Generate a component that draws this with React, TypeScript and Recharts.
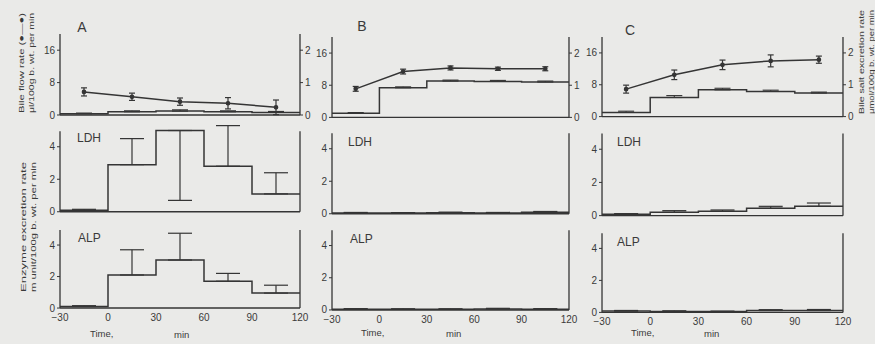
import React from 'react';
import { ComposedChart, Line, XAxis, YAxis, ErrorBar, ReferenceLine } from 'recharts';

// ---- data ----
const stepTimes = [-30, 0, 30, 60, 90, 120];
const midTimes = [-15, 15, 45, 75, 105];
const xTicks = [-30, 0, 30, 60, 90, 120];
const flowTicks = [0, 8, 16];
const saltTicks = [0, 1, 2];
const enzTicks = [0, 2, 4];

// Bile flow rate (ul/100g b.wt. per min), points at period midpoints
const bileFlowA = [5.7, 4.5, 3.3, 2.9, 1.9];
const bileFlowErrA = [1.0, 0.9, 0.9, 1.4, 1.8];
const bileFlowB = [7.1, 11.4, 12.3, 12.1, 12.1];
const bileFlowErrB = [0.6, 0.6, 0.5, 0.4, 0.5];
const bileFlowC = [6.9, 10.5, 13.0, 14.0, 14.3];
const bileFlowErrC = [1.0, 1.2, 1.2, 1.5, 0.9];

// Bile salt excretion rate (umol/100g b.wt. per min), per 30-min period
const bileSaltA = [0.04, 0.1, 0.12, 0.1, 0.08];
const bileSaltErrA = [[0, 0.02], [0, 0.03], [0, 0.04], [0, 0.03], [0, 0.03]];
const bileSaltB = [0.13, 0.92, 1.13, 1.12, 1.1];
const bileSaltErrB = [[0, 0.02], [0, 0.03], [0, 0.03], [0, 0.03], [0, 0.03]];
const bileSaltC = [0.13, 0.6, 0.84, 0.79, 0.74];
const bileSaltErrC = [[0, 0.04], [0, 0.06], [0, 0.05], [0, 0.04], [0, 0.03]];

// LDH excretion rate (m unit/100g b.wt. per min)
const ldhA = [0.1, 2.9, 5.0, 2.8, 1.1];
const ldhErrA = [[0, 0.05], [0, 1.6], [4.3, 0], [0, 2.5], [0, 1.3]];
const ldhB = [0.05, 0.04, 0.06, 0.05, 0.1];
const ldhErrB = [[0, 0.03], [0, 0.03], [0, 0.04], [0, 0.03], [0, 0.04]];
const ldhC = [0.08, 0.2, 0.26, 0.44, 0.56];
const ldhErrC = [[0, 0.04], [0, 0.1], [0, 0.08], [0, 0.12], [0, 0.2]];

// ALP excretion rate (m unit/100g b.wt. per min)
const alpA = [0.1, 2.1, 3.05, 1.7, 0.95];
const alpErrA = [[0, 0.05], [0, 1.6], [0, 1.7], [0, 0.5], [0, 0.5]];
const alpB = [0.05, 0.04, 0.04, 0.06, 0.05];
const alpErrB = [[0, 0.03], [0, 0.03], [0, 0.03], [0, 0.04], [0, 0.03]];
const alpC = [0.08, 0.06, 0.05, 0.12, 0.12];
const alpErrC = [[0, 0.04], [0, 0.04], [0, 0.03], [0, 0.05], [0, 0.06]];

// ---- styling / layout ----
const INK = '#353535';
const TXT = '#3a3a3a';
const BG = '#eaeae8';
const FONT = '"Liberation Sans", Arial, sans-serif';
const PADL = 34;
const PADR = 26;
const PADT = 6;

const fmtX = (v: number) => String(v).replace('-', '\u2212');

function stepPoints(vals: number[]) {
  return stepTimes.map((t, i) => ({ t, v: vals[Math.min(i, vals.length - 1)] }));
}
function midPoints(vals: number[], errs: any[]) {
  return midTimes.map((t, i) => ({ t, v: vals[i], e: errs[i] }));
}

function TopPanel(props: {
  x0: number; x1: number; zero: number; unit: number;
  flow: number[]; flowErr: number[]; salt: number[]; saltErr: any[];
}) {
  const { x0, x1, zero, unit, flow, flowErr, salt, saltErr } = props;
  const plotH = 20 * unit;
  const plotW = x1 - x0;
  const padB = 9;
  const w = plotW + PADL + PADR;
  const h = plotH + PADT + padB;
  return (
    <div style={{ position: 'absolute', left: x0 - PADL, top: zero - plotH - PADT }}>
      <ComposedChart width={w} height={h} margin={{ top: PADT, right: 0, bottom: 0, left: 0 }}>
        <XAxis dataKey="t" type="number" domain={[-30, 120]} ticks={xTicks} tick={false} tickLine={false}
          height={padB} axisLine={{ stroke: INK, strokeWidth: 1.4 }} allowDataOverflow />
        <YAxis yAxisId="l" width={PADL} domain={[0, 20]} ticks={flowTicks} tickSize={3} interval={0}
          tick={{ fontSize: 10, fill: TXT, fontFamily: FONT }} axisLine={{ stroke: INK, strokeWidth: 1.3 }}
          tickLine={{ stroke: INK }} allowDataOverflow />
        <YAxis yAxisId="r" orientation="right" width={PADR} domain={[0, 2.5]} ticks={saltTicks} tickSize={3} interval={0}
          tick={{ fontSize: 10, fill: TXT, fontFamily: FONT }} axisLine={{ stroke: INK, strokeWidth: 1.3 }}
          tickLine={{ stroke: INK }} allowDataOverflow />
        <Line yAxisId="r" data={stepPoints(salt)} dataKey="v" type="stepAfter" stroke={INK} strokeWidth={1.5}
          dot={false} isAnimationActive={false} />
        <Line yAxisId="r" data={midPoints(salt, saltErr)} dataKey="v" type="linear" stroke="none" dot={false}
          isAnimationActive={false}>
          <ErrorBar dataKey="e" width={8} stroke={INK} strokeWidth={1.1} />
        </Line>
        <Line yAxisId="l" data={midPoints(flow, flowErr)} dataKey="v" type="linear" stroke={INK} strokeWidth={1.5}
          dot={{ r: 1.6, fill: INK, stroke: INK }} isAnimationActive={false}>
          <ErrorBar dataKey="e" width={3} stroke={INK} strokeWidth={1.2} />
        </Line>
      </ComposedChart>
    </div>
  );
}

function EnzPanel(props: {
  x0: number; x1: number; zero: number; unit: number;
  vals: number[]; errs: any[]; bottom: boolean;
}) {
  const { x0, x1, zero, unit, vals, errs, bottom } = props;
  const plotH = 5.4 * unit;
  const plotW = x1 - x0;
  const padB = bottom ? 22 : 9;
  const w = plotW + PADL + PADR;
  const h = plotH + PADT + padB;
  return (
    <div style={{ position: 'absolute', left: x0 - PADL, top: zero - plotH - PADT }}>
      <ComposedChart width={w} height={h} margin={{ top: PADT, right: PADR, bottom: 0, left: 0 }}>
        <XAxis dataKey="t" type="number" domain={[-30, 120]} ticks={xTicks} interval={0}
          tick={bottom ? { fontSize: 10, fill: TXT, fontFamily: FONT } : false}
          tickFormatter={fmtX} tickLine={false} tickSize={4}
          height={padB} axisLine={{ stroke: INK, strokeWidth: 1.4 }} allowDataOverflow />
        <YAxis yAxisId="l" width={PADL} domain={[0, 5.4]} ticks={enzTicks} tickSize={3} interval={0}
          tick={{ fontSize: 10, fill: TXT, fontFamily: FONT }} axisLine={false}
          tickLine={{ stroke: INK }} />
        <ReferenceLine yAxisId="l" segment={[{ x: -30, y: 0 }, { x: -30, y: 4.95 }]} stroke={INK} strokeWidth={1.3} />
        <ReferenceLine yAxisId="l" segment={[{ x: 120, y: 0 }, { x: 120, y: 4.95 }]} stroke={INK} strokeWidth={1.3} />
        <Line yAxisId="l" data={stepPoints(vals)} dataKey="v" type="stepAfter" stroke={INK} strokeWidth={1.5}
          dot={false} isAnimationActive={false} />
        <Line yAxisId="l" data={midPoints(vals, errs)} dataKey="v" type="linear" stroke="none" dot={false}
          isAnimationActive={false}>
          <ErrorBar dataKey="e" width={12} stroke={INK} strokeWidth={1.2} />
        </Line>
      </ComposedChart>
    </div>
  );
}

const cols = [
  { x0: 60, x1: 300, zt: 115, zm: 212, zb: 308 },
  { x0: 332, x1: 569, zt: 117, zm: 214, zb: 310 },
  { x0: 602, x1: 843, zt: 117, zm: 216, zb: 312 },
];

export default function App() {
  const txt = { fill: TXT, fontFamily: FONT } as const;
  return (
    <div style={{ position: 'absolute', left: 0, top: 0, width: 875, height: 344, background: BG, overflow: 'hidden' }}>
      <TopPanel x0={cols[0].x0} x1={cols[0].x1} zero={cols[0].zt} unit={4.05}
        flow={bileFlowA} flowErr={bileFlowErrA} salt={bileSaltA} saltErr={bileSaltErrA} />
      <TopPanel x0={cols[1].x0} x1={cols[1].x1} zero={cols[1].zt} unit={4.02}
        flow={bileFlowB} flowErr={bileFlowErrB} salt={bileSaltB} saltErr={bileSaltErrB} />
      <TopPanel x0={cols[2].x0} x1={cols[2].x1} zero={cols[2].zt} unit={3.98}
        flow={bileFlowC} flowErr={bileFlowErrC} salt={bileSaltC} saltErr={bileSaltErrC} />

      <EnzPanel x0={cols[0].x0} x1={cols[0].x1} zero={cols[0].zm} unit={16.25} vals={ldhA} errs={ldhErrA} bottom={false} />
      <EnzPanel x0={cols[1].x0} x1={cols[1].x1} zero={cols[1].zm} unit={16.25} vals={ldhB} errs={ldhErrB} bottom={false} />
      <EnzPanel x0={cols[2].x0} x1={cols[2].x1} zero={cols[2].zm} unit={16.6} vals={ldhC} errs={ldhErrC} bottom={false} />

      <EnzPanel x0={cols[0].x0} x1={cols[0].x1} zero={cols[0].zb} unit={15.75} vals={alpA} errs={alpErrA} bottom={true} />
      <EnzPanel x0={cols[1].x0} x1={cols[1].x1} zero={cols[1].zb} unit={16.1} vals={alpB} errs={alpErrB} bottom={true} />
      <EnzPanel x0={cols[2].x0} x1={cols[2].x1} zero={cols[2].zb} unit={16.0} vals={alpC} errs={alpErrC} bottom={true} />

      <svg width={875} height={344} style={{ position: 'absolute', left: 0, top: 0, pointerEvents: 'none' }}>
        <text x={82} y={32} fontSize={14} textAnchor="middle" {...txt}>A</text>
        <text x={362} y={31} fontSize={14} textAnchor="middle" {...txt}>B</text>
        <text x={630} y={35} fontSize={14} textAnchor="middle" {...txt}>C</text>

        <text x={77} y={142} fontSize={12} {...txt}>LDH</text>
        <text x={348} y={146} fontSize={12} {...txt}>LDH</text>
        <text x={617} y={146} fontSize={12} {...txt}>LDH</text>
        <text x={78} y={242} fontSize={12} {...txt}>ALP</text>
        <text x={350} y={243} fontSize={12} {...txt}>ALP</text>
        <text x={617} y={246} fontSize={12} {...txt}>ALP</text>

        <text x={90} y={337} fontSize={9.5} {...txt}>Time,</text>
        <text x={174} y={338} fontSize={9.5} {...txt}>min</text>
        <text x={361} y={336} fontSize={9.5} {...txt}>Time,</text>
        <text x={446} y={337} fontSize={9.5} {...txt}>min</text>
        <text x={631} y={336} fontSize={9.5} {...txt}>Time,</text>
        <text x={704} y={337} fontSize={9.5} {...txt}>min</text>

        <text transform="translate(24,63) rotate(-90)" fontSize={8} textAnchor="middle" textLength={100} lengthAdjust="spacingAndGlyphs" {...txt}>Bile flow rate (●—●)</text>
        <text transform="translate(34,63) rotate(-90)" fontSize={8} textAnchor="middle" textLength={100} lengthAdjust="spacingAndGlyphs" {...txt}>μl/100g b. wt. per min</text>
        <text transform="translate(26,227) rotate(-90)" fontSize={8} textAnchor="middle" textLength={130} lengthAdjust="spacingAndGlyphs" {...txt}>Enzyme excretion rate</text>
        <text transform="translate(36,227) rotate(-90)" fontSize={8} textAnchor="middle" textLength={130} lengthAdjust="spacingAndGlyphs" {...txt}>m unit/100g b. wt. per min</text>

        <text transform="translate(864,62) rotate(-90)" fontSize={8} textAnchor="middle" textLength={104} lengthAdjust="spacingAndGlyphs" {...txt}>Bile salt excretion rate</text>
        <text transform="translate(874,62) rotate(-90)" fontSize={8} textAnchor="middle" textLength={104} lengthAdjust="spacingAndGlyphs" {...txt}>μmol/100g b. wt. per min</text>
      </svg>
    </div>
  );
}
